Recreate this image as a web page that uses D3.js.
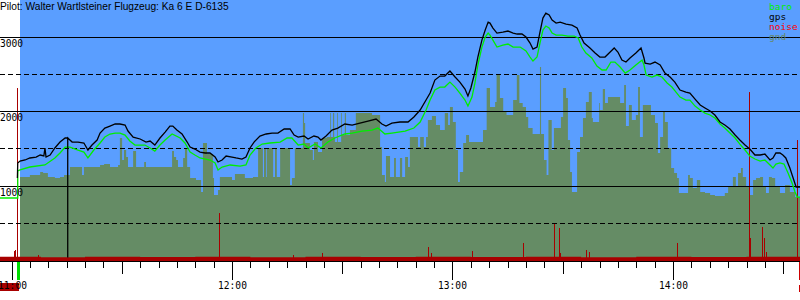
<!DOCTYPE html>
<html><head><meta charset="utf-8">
<script src="https://cdn.jsdelivr.net/npm/d3@7"></script>
<style>body{margin:0;background:#fff}svg{display:block}</style>
</head><body><svg id="c" width="800" height="300"></svg>
<script>
// ---- data (time = minutes after 11:00, values = metres) ----
const title = "Pilot: Walter Wartlsteiner Flugzeug: Ka 6 E D-6135";
const legendNames = ["baro", "gps", "noise", "gnd"];
const solidLevels = [1000, 2000, 3000];
const dashedLevels = [500, 1500, 2500];
const yLabels = ["1000", "2000", "3000"];
const hourMinutes = [0, 60, 120, 180];
const hourLabels = ["11:00", "12:00", "13:00", "14:00"];
const takeoff = 1.6, landing = 213.9;

const gps = [[1.6,1107],[1.7,1308],[2.3,1335],[3.7,1349],[5.0,1376],[6.7,1389],[7.8,1416],[8.8,1403],[9.1,1510],[9.4,1389],[10.5,1416],[11.8,1510],[13.2,1590],[14.6,1644],[15.3,1644],[15.3,40],[15.3,1644],[16.5,1590],[18.1,1590],[19.7,1577],[20.8,1483],[21.9,1550],[23.3,1617],[24.1,1711],[25.4,1778],[26.8,1805],[28.2,1832],[29.5,1832],[30.9,1818],[31.7,1738],[33.1,1657],[35.0,1631],[36.6,1590],[37.7,1604],[39.0,1550],[40.4,1644],[41.8,1724],[43.1,1805],[43.9,1805],[45.0,1751],[46.4,1698],[47.8,1590],[48.6,1523],[49.9,1496],[51.3,1456],[52.7,1443],[54.0,1443],[55.4,1389],[56.2,1322],[57.3,1349],[58.4,1402],[60.0,1389],[61.1,1376],[62.7,1362],[63.8,1389],[64.9,1510],[66.0,1590],[67.6,1671],[69.3,1698],[70.9,1711],[72.5,1711],[74.2,1765],[75.8,1765],[76.9,1684],[78.0,1657],[79.6,1671],[80.7,1631],[82.3,1671],[83.4,1657],[84.2,1617],[85.6,1671],[87.2,1751],[88.8,1778],[90.7,1832],[92.7,1818],[94.8,1845],[97.0,1872],[99.2,1899],[100.8,1832],[101.9,1805],[103.5,1845],[105.7,1859],[107.9,1859],[109.5,1926],[111.2,2020],[112.8,2154],[113.9,2248],[115.2,2422],[116.6,2476],[117.9,2476],[119.3,2543],[120.7,2463],[122.0,2395],[123.4,2302],[124.2,2208],[125.0,2315],[126.1,2530],[126.9,2731],[128.0,2959],[128.9,3093],[129.7,3200],[130.2,3187],[131.0,3120],[132.1,3053],[133.7,3066],[135.1,3080],[136.5,3053],[137.6,3040],[138.9,3040],[140.0,2999],[141.1,2919],[141.9,2838],[143.0,2865],[143.8,3066],[144.6,3254],[145.4,3321],[146.3,3295],[147.1,3227],[148.2,3187],[149.3,3200],[150.9,3174],[152.5,3160],[153.9,3120],[154.7,3026],[155.8,2919],[157.4,2852],[158.8,2785],[160.1,2731],[161.5,2731],[162.9,2798],[164.0,2852],[165.0,2798],[166.1,2691],[167.2,2664],[168.3,2718],[169.9,2785],[171.3,2852],[172.1,2718],[172.4,2650],[173.8,2637],[175.1,2664],[176.5,2624],[177.8,2516],[179.2,2463],[180.5,2395],[181.9,2288],[183.5,2261],[184.6,2248],[186.0,2167],[187.4,2087],[188.7,2047],[190.1,2006],[191.4,1953],[192.8,1859],[194.1,1818],[195.5,1765],[196.9,1684],[198.2,1617],[199.6,1550],[200.9,1496],[202.3,1416],[203.7,1416],[205.0,1429],[206.4,1349],[207.2,1376],[208.0,1443],[209.1,1443],[209.9,1416],[210.7,1376],[211.8,1241],[212.6,1121],[213.5,986],[214.6,986]];

const baro = [[-3.2,839],[1.7,839],[1.7,1201],[2.3,1215],[5.0,1255],[9.1,1282],[11.8,1376],[13.2,1443],[14.6,1523],[15.9,1523],[18.1,1483],[19.7,1456],[20.8,1376],[22.4,1483],[24.1,1577],[25.4,1657],[26.8,1698],[28.2,1711],[29.5,1711],[30.9,1684],[32.2,1604],[33.6,1550],[36.3,1550],[37.7,1510],[39.0,1469],[40.4,1550],[41.8,1617],[43.7,1698],[45.9,1644],[47.2,1577],[48.6,1456],[49.9,1416],[51.3,1376],[54.0,1349],[55.4,1309],[56.2,1215],[57.3,1255],[59.5,1282],[62.2,1268],[63.8,1282],[64.9,1416],[66.5,1510],[68.2,1563],[70.3,1577],[73.1,1590],[75.0,1644],[76.3,1644],[78.0,1550],[79.6,1563],[80.7,1510],[82.6,1563],[84.2,1510],[86.1,1590],[88.0,1644],[90.7,1698],[92.7,1711],[95.4,1738],[98.1,1751],[99.7,1778],[101.6,1698],[103.5,1711],[107.1,1738],[109.5,1778],[111.2,1859],[112.8,2020],[113.9,2154],[115.2,2288],[116.6,2328],[117.9,2328],[119.3,2395],[120.7,2328],[122.0,2248],[123.4,2154],[124.2,2073],[125.3,2194],[126.1,2382],[126.9,2624],[128.0,2865],[128.9,2999],[129.7,3053],[130.2,3026],[131.0,2959],[132.1,2865],[133.7,2892],[135.1,2906],[136.5,2865],[138.4,2865],[140.0,2812],[141.1,2731],[141.9,2677],[143.0,2731],[143.8,2919],[144.6,3093],[145.4,3147],[146.3,3120],[147.1,3053],[148.2,3026],[149.8,3026],[151.4,3013],[153.1,3013],[154.2,2986],[155.2,2865],[156.3,2785],[157.9,2718],[159.3,2610],[160.7,2557],[161.8,2557],[163.1,2664],[164.2,2664],[165.6,2597],[167.0,2516],[168.3,2557],[169.9,2624],[171.6,2691],[172.1,2624],[172.7,2489],[174.3,2463],[175.6,2489],[177.0,2463],[178.4,2382],[179.7,2328],[181.9,2194],[183.5,2154],[184.6,2154],[186.0,2073],[187.4,2020],[188.7,1979],[190.1,1953],[191.4,1912],[192.8,1832],[194.1,1778],[195.5,1711],[196.9,1644],[198.2,1563],[199.6,1483],[200.9,1402],[202.3,1362],[203.7,1335],[205.0,1349],[206.4,1282],[207.2,1241],[208.0,1295],[209.1,1309],[210.2,1295],[211.3,1174],[212.4,1040],[213.2,919],[213.8,852],[214.6,852]];

const gnd = [[2.3,1121],[5.0,1147],[7.8,1188],[8.6,1174],[9.9,1121],[11.8,1107],[13.2,1121],[14.3,1147],[15.9,1255],[18.1,1255],[19.2,1147],[19.7,1255],[24.1,1282],[25.2,1295],[26.8,1255],[29.0,1282],[29.5,1644],[30.1,1349],[30.6,1483],[31.2,1389],[31.7,1255],[33.1,1469],[33.9,1255],[36.1,1322],[36.6,1255],[43.7,1469],[44.2,1389],[44.8,1349],[45.3,1255],[46.7,1376],[47.2,1510],[47.8,1255],[48.6,1107],[50.2,1080],[51.6,919],[52.1,1577],[53.2,1429],[54.8,1107],[55.1,879],[56.2,946],[56.7,1121],[60.0,1080],[60.8,1161],[63.5,1107],[65.7,1121],[67.1,1510],[68.4,1121],[68.7,1510],[69.3,1121],[69.5,1510],[71.2,1121],[71.7,1510],[72.2,1121],[73.1,1510],[75.8,1013],[76.3,1107],[77.1,1510],[79.3,1979],[79.6,1845],[79.9,1577],[81.2,1483],[82.0,1349],[82.3,1590],[83.4,1456],[84.5,1644],[85.8,1657],[86.7,1979],[86.9,1657],[87.5,1979],[87.8,1657],[88.0,1590],[88.6,1979],[88.8,1590],[89.7,1979],[89.9,1684],[90.7,1979],[91.0,1684],[92.1,1751],[93.7,1979],[98.1,1953],[100.3,1523],[100.8,1147],[101.6,1053],[101.9,1402],[103.0,1121],[104.1,1376],[104.6,1121],[105.7,1376],[106.3,1121],[107.1,1389],[107.9,1255],[108.4,1657],[110.6,1523],[111.2,1657],[112.2,1523],[112.8,1657],[113.3,1885],[114.4,1939],[115.5,1818],[116.6,1751],[117.9,1979],[118.8,1818],[119.3,2060],[120.1,1859],[120.9,1483],[121.5,1053],[122.0,1188],[122.9,1577],[123.7,1684],[124.5,1590],[128.3,1751],[129.3,2315],[130.2,2060],[131.6,2127],[132.0,2489],[132.9,2181],[133.8,1993],[134.7,1953],[136.5,2154],[137.5,2489],[138.2,2114],[139.1,2060],[140.0,1926],[140.6,1778],[141.8,1698],[143.8,2597],[144.1,1698],[144.9,1349],[145.6,1147],[146.1,1885],[147.0,1483],[147.6,1778],[149.5,1926],[150.1,2315],[150.9,2181],[151.4,1617],[152.0,1188],[152.5,919],[153.9,1456],[154.7,1657],[155.5,1912],[156.3,2127],[157.1,2261],[157.9,1912],[158.2,1859],[159.9,2114],[160.1,2020],[160.9,2301],[161.5,2114],[162.3,2194],[165.6,2114],[166.7,2355],[167.2,1805],[168.0,2087],[168.8,1885],[169.9,1953],[170.5,2328],[171.0,1657],[171.8,2087],[174.0,1953],[175.1,1845],[175.9,1443],[176.5,1657],[177.3,1993],[177.8,1859],[178.6,1510],[179.5,1241],[180.3,1174],[181.1,1107],[181.6,906],[184.1,1147],[184.6,1107],[185.4,973],[186.5,1080],[187.4,919],[188.7,906],[190.1,879],[191.4,866],[194.1,906],[195.0,986],[196.3,1121],[197.1,986],[197.7,1174],[198.5,1241],[199.0,1121],[199.9,1000],[200.9,879],[201.8,1080],[202.6,1107],[203.7,1121],[204.5,986],[205.3,906],[206.1,1121],[206.9,1107],[207.8,986],[209.1,906],[210.5,1013],[211.8,919],[213.2,852],[214.6,852]];

const noiseBase = [[-3.2,50],[8,44],[20,50],[35,46],[50,52],[65,45],[80,50],[95,47],[110,52],[125,46],[140,50],[155,44],[170,50],[185,47],[200,52],[214.6,52]];
const noiseSpikes = [[0.7,127],[0.95,141],[1.5,2315],[7.2,74],[56.5,637],[76.6,74],[84.5,101],[113.3,181],[114.1,101],[125.3,127],[139.2,235],[147.6,503],[149.0,436],[149.2,101],[156.3,141],[157.1,114],[181.1,235],[200.7,2261],[200.9,302],[204.2,450],[204.8,302],[205.3,114],[213.8,1617]];

// ---- drawing ----
const W = 800, H = 300;
const svg = d3.select("#c");
const x = d3.scaleLinear().domain([0, 180]).range([11.5, 673]);
const y = d3.scaleLinear().domain([0, 3000]).range([260.5, 37]);
const px = v => Math.floor(v) + 0.5;
const mono = "'DejaVu Sans Mono', monospace";
const C = {blue:"#5a9eff", gnd:"#658c65", noise:"#a80000", baro:"#00ee00", gps:"#000"};

svg.append("rect").attr("width", W).attr("height", H).attr("fill", "#fff");
svg.append("rect").attr("x", 20).attr("y", 0).attr("width", W - 20).attr("height", y(0)).attr("fill", C.blue);

// ground
svg.append("defs").append("clipPath").attr("id", "plot")
  .append("rect").attr("x", 20).attr("y", 0).attr("width", W - 20).attr("height", 262);
svg.append("path").datum(gnd)
  .attr("clip-path", "url(#plot)")
  .attr("fill", C.gnd)
  .attr("d", d3.area().curve(d3.curveStepAfter).x(d => x(d[0])).y0(y(0) + 1).y1(d => y(d[1])));

// noise
svg.append("path").datum(noiseBase)
  .attr("fill", C.noise)
  .attr("d", d3.area().curve(d3.curveStepAfter).x(d => x(d[0])).y0(y(0) + 1).y1(d => y(d[1])));
svg.append("g").selectAll("rect").data(noiseSpikes).join("rect")
  .attr("fill", C.noise)
  .attr("x", d => Math.round(x(d[0])))
  .attr("width", 1)
  .attr("y", d => y(d[1]))
  .attr("height", d => y(0) + 1 - y(d[1]));

// grid
svg.append("g").selectAll("line").data(solidLevels).join("line")
  .attr("x1", 0).attr("x2", W).attr("y1", d => px(y(d))).attr("y2", d => px(y(d)))
  .attr("stroke", "#000").attr("stroke-width", 1);
svg.append("g").selectAll("line").data(dashedLevels).join("line")
  .attr("x1", 0).attr("x2", W).attr("y1", d => px(y(d))).attr("y2", d => px(y(d)))
  .attr("stroke", "#000").attr("stroke-width", 1).attr("stroke-dasharray", "5,3");

// series lines
const line = d3.line().x(d => x(d[0])).y(d => y(d[1]));
svg.append("path").datum(baro).attr("fill", "none").attr("stroke", C.baro).attr("stroke-width", 1.3).attr("d", line);
svg.append("path").datum(gps).attr("fill", "none").attr("stroke", C.gps).attr("stroke-width", 1.3).attr("d", line);

// x axis
svg.append("line").attr("x1", 0).attr("x2", W).attr("y1", 261.5).attr("y2", 261.5).attr("stroke", "#000");
const ticks = d3.range(0, 215, 5);
svg.append("g").selectAll("line").data(ticks).join("line")
  .attr("x1", d => Math.round(x(d)) + 0.5).attr("x2", d => Math.round(x(d)) + 0.5)
  .attr("y1", 262).attr("y2", d => d % 60 === 0 ? 280 : d % 30 === 0 ? 274 : 268)
  .attr("stroke", "#000");

// takeoff / landing markers
svg.append("rect").attr("x", Math.round(x(takeoff))).attr("y", 262).attr("width", 3).attr("height", 18).attr("fill", "#00dd00");
svg.append("rect").attr("x", 0).attr("y", 283).attr("width", Math.round(x(takeoff)) + 2).attr("height", 8).attr("fill", C.noise);
svg.append("rect").attr("x", Math.round(x(landing)) + 1).attr("y", 262).attr("width", 2).attr("height", 18).attr("fill", "#cc0000");
svg.append("rect").attr("x", Math.round(x(landing)) + 1).attr("y", 285).attr("width", 2).attr("height", 7).attr("fill", "#cc0000");

svg.append("g").selectAll("text").data(hourMinutes).join("text")
  .attr("x", d => Math.round(x(d)) + 0.5).attr("y", 289)
  .attr("text-anchor", "middle").attr("font-family", mono).attr("font-size", "9.6px")
  .text((d, i) => hourLabels[i]);

// y labels
svg.append("g").selectAll("text").data(solidLevels).join("text")
  .attr("x", 0).attr("y", d => px(y(d)) + 9.5)
  .attr("font-family", mono).attr("font-size", "9.6px")
  .text((d, i) => yLabels[i]);

// title
svg.append("text").attr("x", 0).attr("y", 10)
  .attr("font-family", "'Liberation Sans', Arial, sans-serif").attr("font-size", "10.2px")
  .text(title);

// legend
const legendColors = [C.baro, C.gps, "#ff0000", "#668866"];
svg.append("g").selectAll("text").data(legendNames).join("text")
  .attr("x", 769).attr("y", (d, i) => 10 + i * 10)
  .attr("font-family", mono).attr("font-size", "9.5px")
  .attr("fill", (d, i) => legendColors[i])
  .text(d => d);
</script></body></html>
